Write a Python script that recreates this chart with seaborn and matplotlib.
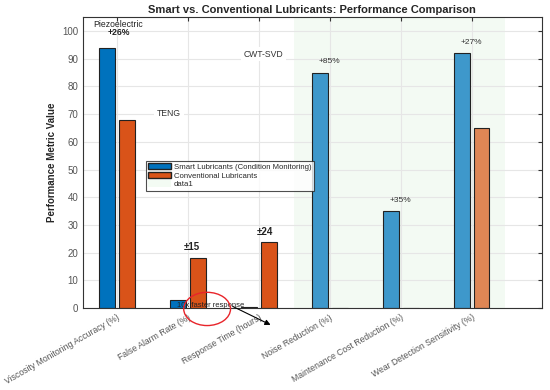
import pandas as pd
import matplotlib.pyplot as plt
import seaborn as sns
from matplotlib.patches import Patch, Ellipse

# Data
categories = ['Viscosity Monitoring Accuracy (%)', 'False Alarm Rate (%)', 'Response Time (hours)',
              'Noise Reduction (%)', 'Maintenance Cost Reduction (%)', 'Wear Detection Sensitivity (%)']
smart = [94, 3, 0.5, 85, 35, 92]
conventional = [68, 18, 24, 0, 0, 65]
smart_colors = ['#0072BD', '#0072BD', '#0072BD', '#3E98CB', '#3E98CB', '#3E98CB']
conv_colors = ['#D95319', '#D95319', '#D95319', '#D95319', '#D95319', '#DE8655']
gain_labels = ['+85%', '+35%', '+27%']
gain_y = [89, 39, 96]

series = ['Smart Lubricants (Condition Monitoring)', 'Conventional Lubricants']
df = pd.DataFrame({
    'Metric': categories * 2,
    'Value': smart + conventional,
    'Type': [series[0]] * 6 + [series[1]] * 6,
})

sns.set_style('whitegrid')
plt.rcParams['font.family'] = ['Liberation Sans', 'DejaVu Sans']

fig = plt.figure(figsize=(5.5, 3.9), dpi=100)
ax = fig.add_axes([0.151, 0.21, 0.834, 0.746])

# shaded region behind the smart-only metrics
ax.axvspan(2.5, 5.47, color='#EEF8EE', alpha=0.7, zorder=0, lw=0)

sns.barplot(data=df, x='Metric', y='Value', hue='Type', order=categories,
            width=0.56, gap=0.2, edgecolor='#222222', linewidth=0.8,
            legend=False, ax=ax, zorder=2)

for bar, c in zip(ax.containers[0], smart_colors):
    bar.set_facecolor(c)
for bar, c in zip(ax.containers[1], conv_colors):
    bar.set_facecolor(c)

ax.set_xlim(-0.48, 5.99)
ax.set_ylim(0, 105)
ax.set_yticks(range(0, 101, 10))
ax.grid(True, color='#E6E6E6', linewidth=0.8)
ax.set_axisbelow(True)
for s in ax.spines.values():
    s.set_color('#333333')
    s.set_linewidth(0.8)
ax.tick_params(direction='in', top=True, right=True, length=3, color='#333333',
               labelsize=7, labelcolor='#555555')
ax.set_xticks(range(6))
ax.set_xticklabels(categories, rotation=30, ha='right', rotation_mode='anchor', fontsize=6.2)
ax.set_xlabel('')
ax.set_ylabel('Performance Metric Value', fontsize=7, fontweight='bold')
ax.set_title('Smart vs. Conventional Lubricants: Performance Comparison',
             fontsize=8, fontweight='bold', pad=3)

# annotations
ax.text(0.02, 102.5, 'Piezoelectric', fontsize=6.2, ha='center', va='center', color='#222222')
ax.text(0.02, 99.3, '+26%', fontsize=6.2, ha='center', va='center', fontweight='bold', color='#222222')
ax.text(0.73, 70.3, 'TENG', fontsize=6.2, ha='center', va='center', color='#333333',
        bbox=dict(facecolor='white', edgecolor='none', pad=2))
ax.text(2.07, 91.7, 'CWT-SVD', fontsize=6.2, ha='center', va='center', color='#333333',
        bbox=dict(facecolor='white', edgecolor='none', pad=2))
for i, (lab, yy) in enumerate(zip(gain_labels, gain_y)):
    ax.text(3 + i, yy, lab, fontsize=6, ha='center', va='center', color='#333333')
ax.text(1.06, 22, '±15', fontsize=7, ha='center', va='center', fontweight='bold', color='#222222')
ax.text(2.08, 27.5, '±24', fontsize=7, ha='center', va='center', fontweight='bold', color='#222222')
ax.text(0.85, 0.9, '10x faster response', fontsize=5.5, ha='left', va='center', color='#222222', zorder=5)
ax.annotate('', xy=(2.2, -6.5), xytext=(1.6, 1.0),
            arrowprops=dict(arrowstyle='-|>', color='black', lw=0.8, mutation_scale=8),
            annotation_clip=False, zorder=5)
ax.add_patch(Ellipse((1.27, -0.3), 0.66, 12, fill=False, edgecolor='#E8242A', lw=1,
                     clip_on=False, zorder=6))

handles = [Patch(facecolor='#0072BD', edgecolor='#222222'),
           Patch(facecolor='#D95319', edgecolor='#222222'),
           Patch(facecolor='#F3FBF3', edgecolor='none')]
leg = ax.legend(handles, series + ['data1'], loc='upper left', bbox_to_anchor=(0.128, 0.52),
                fontsize=5.6, frameon=True, fancybox=False, handlelength=2.9, handleheight=0.9,
                borderpad=0.3, labelspacing=0.1, handletextpad=0.4)
leg.get_frame().set_edgecolor('#222222')
leg.get_frame().set_linewidth(0.8)

fig.savefig('out.png', dpi=100)
